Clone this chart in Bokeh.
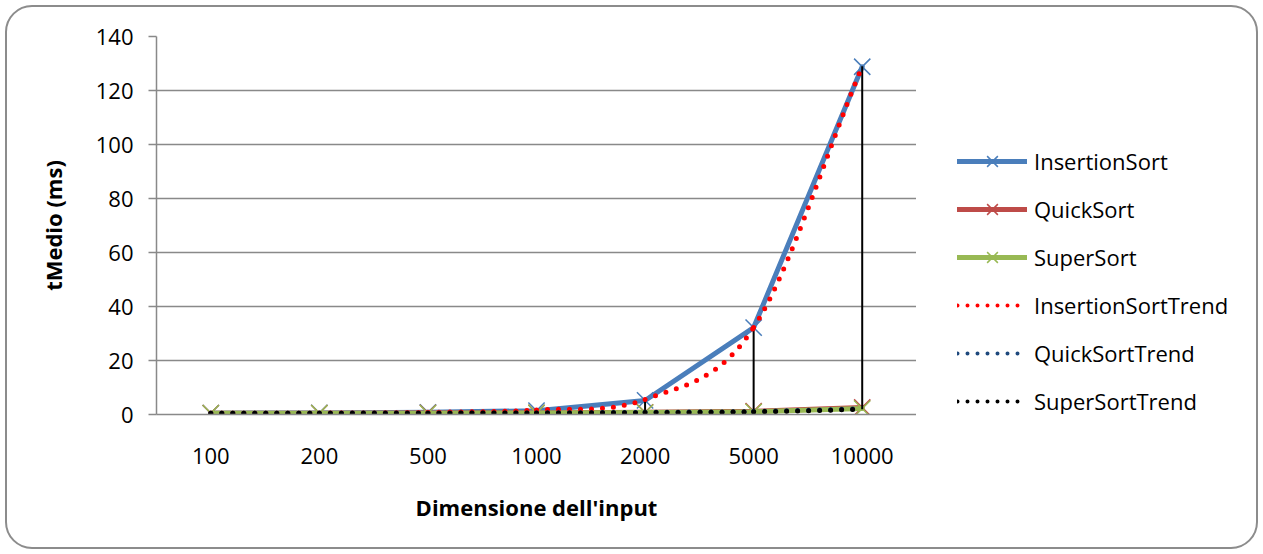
from bokeh.plotting import figure
from bokeh.layouts import row
from bokeh.models import FixedTicker, Range1d
from bokeh.embed import file_html
from bokeh.resources import INLINE

# ---- data ----
categories = ["100", "200", "500", "1000", "2000", "5000", "10000"]
insertion = [0.5, 0.6, 0.8, 1.4, 5.2, 32.2, 128.8]
quick = [0.5, 0.5, 0.6, 0.6, 0.8, 1.2, 2.6]
supers = [0.5, 0.5, 0.5, 0.6, 0.7, 1.0, 2.2]
insertion_trend = [0.5, 0.5, 0.8, 1.7, 5.6, 32.2, 129.0]
quick_trend = [0.5, 0.5, 0.55, 0.6, 0.8, 1.1, 2.1]
super_trend = [0.45, 0.45, 0.5, 0.55, 0.7, 1.0, 1.9]
y_ticks = [0, 20, 40, 60, 80, 100, 120, 140]

FONT = "Open Sans"
GRID = "#898989"
xs = list(range(len(categories)))

p = figure(width=916, height=554, output_backend="svg", toolbar_location=None,
           x_range=Range1d(-0.5, len(categories) - 0.5), y_range=Range1d(0, 140),
           min_border_left=156, min_border_right=0, min_border_top=36, min_border_bottom=140)
p.border_fill_color = None
p.background_fill_color = "white"
p.outline_line_color = None

# axes
p.xaxis.ticker = FixedTicker(ticks=xs)
p.xaxis.major_label_overrides = {i: c for i, c in enumerate(categories)}
p.xaxis.major_tick_out = 0
p.xaxis.major_tick_in = 0
p.xaxis.minor_tick_out = 0
p.xaxis.minor_tick_in = 0
p.xaxis.axis_line_color = GRID
p.xaxis.axis_line_width = 1.5
p.xaxis.major_label_standoff = 33
p.xaxis.axis_label = "Dimensione dell'input"
p.xaxis.axis_label_standoff = 25

p.yaxis.ticker = FixedTicker(ticks=y_ticks)
p.yaxis.major_tick_out = 8
p.yaxis.major_tick_in = 0
p.yaxis.minor_tick_out = 0
p.yaxis.minor_tick_in = 0
p.yaxis.axis_line_color = GRID
p.yaxis.axis_line_width = 1.5
p.yaxis.major_tick_line_color = GRID
p.yaxis.major_tick_line_width = 1.5
p.yaxis.major_label_standoff = 15
p.yaxis.axis_label = "tMedio (ms)"
p.yaxis.axis_label_standoff = 25

for ax in (p.xaxis, p.yaxis):
    ax.major_label_text_font = FONT
    ax.major_label_text_font_size = "22px"
    ax.major_label_text_color = "black"
    ax.axis_label_text_font = FONT
    ax.axis_label_text_font_size = "22px"
    ax.axis_label_text_font_style = "bold"
    ax.axis_label_text_color = "black"

p.xgrid.grid_line_color = None
p.ygrid.ticker = FixedTicker(ticks=y_ticks)
p.ygrid.grid_line_color = GRID
p.ygrid.grid_line_width = 1.5


def smooth(ys):
    n = len(ys)
    ey = [2 * ys[0] - ys[1]] + list(ys) + [2 * ys[-1] - ys[-2]]
    ex = [-1] + xs + [n]
    out = dict(x0=[], y0=[], x1=[], y1=[], cx0=[], cy0=[], cx1=[], cy1=[])
    for i in range(n - 1):
        out["x0"].append(ex[i + 1]); out["y0"].append(ey[i + 1])
        out["x1"].append(ex[i + 2]); out["y1"].append(ey[i + 2])
        out["cx0"].append(ex[i + 1] + (ex[i + 2] - ex[i]) / 6)
        out["cy0"].append(ey[i + 1] + (ey[i + 2] - ey[i]) / 6)
        out["cx1"].append(ex[i + 2] - (ex[i + 3] - ex[i + 1]) / 6)
        out["cy1"].append(ey[i + 2] - (ey[i + 3] - ey[i + 1]) / 6)
    return out


series = [("InsertionSort", insertion, "#4A7EBB"),
          ("QuickSort", quick, "#BE4B48"),
          ("SuperSort", supers, "#98B954")]
trends = [("InsertionSortTrend", insertion_trend, "#FF0000"),
          ("QuickSortTrend", quick_trend, "#1F497D"),
          ("SuperSortTrend", super_trend, "black")]

for name, ys, col in series:
    p.line(xs, ys, line_color=col, line_width=5, line_cap="round", line_join="round")
    p.scatter(xs, ys, marker="x", size=23, line_color=col, line_width=1.5)

# high-low lines
all_series = [insertion, quick, supers, insertion_trend, quick_trend, super_trend]
highs = [max(s[i] for s in all_series) for i in xs]
lows = [min(s[i] for s in all_series) for i in xs]
p.segment(x0=xs, y0=highs, x1=xs, y1=lows, line_color="black", line_width=2)

for name, ys, col in trends:
    p.bezier(source=smooth(ys), x0="x0", y0="y0", x1="x1", y1="y1",
             cx0="cx0", cy0="cy0", cx1="cx1", cy1="cy1",
             line_color=col, line_width=5, line_dash="0 11", line_cap="round")

# ---- legend panel (separate figure; its glyphs lie outside its own ranges) ----
lp = figure(width=347, height=554, output_backend="svg", toolbar_location=None,
            x_axis_type=None, y_axis_type=None,
            x_range=Range1d(100, 101), y_range=Range1d(1000, 1001),
            min_border_left=0, min_border_right=0, min_border_top=0, min_border_bottom=0)
lp.border_fill_color = None
lp.background_fill_color = None
lp.outline_line_color = None
lp.grid.visible = False

for name, ys, col in series:
    lp.line(xs, ys, line_color=col, line_width=5, line_cap="round", legend_label=name)
    lp.scatter(xs, ys, marker="x", size=23, line_color=col, line_width=1.5, legend_label=name)
for name, ys, col in trends:
    lp.line(xs, ys, line_color=col, line_width=4, line_dash="0 10", line_cap="round",
            legend_label=name)

lg = lp.legend[0]
lg.location = (41, -6)
lg.padding = 0
lg.margin = 0
lg.border_line_color = None
lg.background_fill_alpha = 0
lg.glyph_width = 70
lg.glyph_height = 38
lg.label_height = 20
lg.spacing = 10
lg.label_standoff = 7
lg.label_text_font = FONT
lg.label_text_font_size = "22px"
lg.label_text_color = "black"

layout = row(p, lp, spacing=0)
layout.styles = {"outline": "2.5px solid #8c8c8c", "outline-offset": "-7px",
                 "border-radius": "32px"}

open("out.html", "w").write(file_html(layout, INLINE))
